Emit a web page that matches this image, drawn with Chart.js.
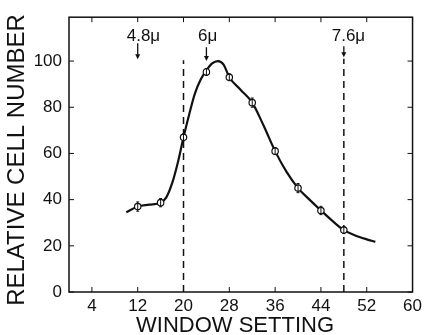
<!DOCTYPE html>
<html>
<head>
<meta charset="utf-8">
<script src="https://cdn.jsdelivr.net/npm/chart.js@4/dist/chart.umd.min.js"></script>
<style>
  body { margin: 0; background: #fff; }
  canvas { display: block; }
</style>
</head>
<body>
<canvas id="chart" width="426" height="335"></canvas>
<script>
// measured points (window setting, relative cell number, error)
const pointX = [12, 16, 20, 24, 28, 32, 36, 40, 44, 48];
const pointY = [37, 38.7, 67, 95.3, 93, 82, 61, 45, 35.3, 26.8];
const pointErr = [2, 1.8, 1.5, 1.5, 1.5, 2, 1.5, 2, 1.8, 1.5];

// smooth curve drawn through the points
const curveX = [10, 12, 14, 16, 17, 18, 19, 20, 21, 22, 23, 24, 25, 26, 27, 28, 30, 32, 34, 36, 38, 40, 42, 44, 46, 48, 50, 52, 53.5];
const curveY = [34.5, 37, 37.8, 38.7, 41, 47, 56, 67, 77, 86, 92, 96, 99, 100, 98.5, 93, 87.5, 82, 72, 61, 52, 45, 40, 35.3, 30.8, 26.8, 24.5, 22.8, 21.7];

// dashed markers and arrows
const dashX = [20, 48];
const dashTop = [100.4, 101];
const arrowX = [12, 24, 48];
const arrowTop = [107.7, 106, 106.4];
const arrowTip = [100.8, 100, 101.7];
const arrowLabels = ["4.8\u03bc", "6\u03bc", "7.6\u03bc"];
const arrowLabelX = [13, 24.2, 48.8];
const arrowLabelY = 108.5;

const xTicks = [4, 12, 20, 28, 36, 44, 52, 60];
const yTicks = [0, 20, 40, 60, 80, 100];
const xTitle = "WINDOW SETTING";
const yTitle = "RELATIVE CELL NUMBER";

const FONT = "'Liberation Sans', Arial, sans-serif";
const INK = "#111";

const dashSets = dashX.map((x, i) => ({
  type: "line",
  data: [{ x: x, y: 0 }, { x: x, y: dashTop[i] }],
  borderColor: INK,
  borderWidth: 1.5,
  borderDash: [7, 5],
  pointRadius: 0,
}));

const decor = {
  id: "decor",
  afterDatasetsDraw(chart) {
    const { ctx, chartArea: a, scales } = chart;
    const sx = scales.x, sy = scales.y;
    ctx.save();
    ctx.strokeStyle = INK;
    ctx.fillStyle = INK;

    // frame
    ctx.lineWidth = 1.5;
    ctx.strokeRect(a.left, a.top, a.right - a.left, a.bottom - a.top);

    // inward ticks on all four sides
    ctx.lineWidth = 1;
    ctx.beginPath();
    xTicks.forEach((v) => {
      const px = sx.getPixelForValue(v);
      ctx.moveTo(px, a.bottom); ctx.lineTo(px, a.bottom - 5);
      ctx.moveTo(px, a.top); ctx.lineTo(px, a.top + 5);
    });
    yTicks.concat([120]).forEach((v) => {
      const py = sy.getPixelForValue(v);
      if (py < a.top) return;
      ctx.moveTo(a.left, py); ctx.lineTo(a.left + 5, py);
      ctx.moveTo(a.right, py); ctx.lineTo(a.right - 5, py);
    });
    ctx.stroke();

    // error bars
    ctx.lineWidth = 1;
    ctx.beginPath();
    pointX.forEach((x, i) => {
      const px = sx.getPixelForValue(x);
      const y1 = sy.getPixelForValue(pointY[i] - pointErr[i]);
      const y2 = sy.getPixelForValue(pointY[i] + pointErr[i]);
      ctx.moveTo(px, y1); ctx.lineTo(px, y2);
      ctx.moveTo(px - 1.5, y1); ctx.lineTo(px + 1.5, y1);
      ctx.moveTo(px - 1.5, y2); ctx.lineTo(px + 1.5, y2);
    });
    ctx.stroke();

    // arrows
    arrowX.forEach((x, i) => {
      const px = sx.getPixelForValue(x);
      const t = sy.getPixelForValue(arrowTop[i]);
      const b = sy.getPixelForValue(arrowTip[i]);
      ctx.lineWidth = 1.3;
      ctx.beginPath();
      ctx.moveTo(px, t); ctx.lineTo(px, b - 3);
      ctx.stroke();
      ctx.beginPath();
      ctx.moveTo(px - 2.5, b - 5); ctx.lineTo(px + 2.5, b - 5); ctx.lineTo(px, b);
      ctx.closePath();
      ctx.fill();
    });

    // arrow labels
    ctx.font = "17px " + FONT;
    ctx.textAlign = "center";
    ctx.textBaseline = "alphabetic";
    arrowLabels.forEach((s, i) => {
      ctx.fillText(s, sx.getPixelForValue(arrowLabelX[i]), sy.getPixelForValue(arrowLabelY));
    });

    // axis titles
    ctx.font = "22px " + FONT;
    ctx.textAlign = "center";
    ctx.fillText(xTitle, 235, 332);
    ctx.save();
    ctx.translate(24, 160);
    ctx.rotate(-Math.PI / 2);
    ctx.font = "24px " + FONT;
    ctx.fillText(yTitle, 0, 0);
    ctx.restore();

    ctx.restore();
  },
};

new Chart(document.getElementById("chart"), {
  type: "line",
  data: {
    datasets: [
      {
        data: pointX.map((x, i) => ({ x: x, y: pointY[i] })),
        showLine: false,
        pointRadius: 3.2,
        pointBorderWidth: 1.2,
        pointBorderColor: INK,
        pointBackgroundColor: "#fff",
      },
      {
        data: curveX.map((x, i) => ({ x: x, y: curveY[i] })),
        borderColor: INK,
        borderWidth: 2.2,
        pointRadius: 0,
        cubicInterpolationMode: "monotone",
      },
      ...dashSets,
    ],
  },
  options: {
    responsive: false,
    animation: false,
    layout: { padding: { top: 12, right: 12, left: 0, bottom: 0 } },
    plugins: { legend: { display: false }, tooltip: { enabled: false } },
    scales: {
      x: {
        type: "linear",
        min: 0,
        max: 60,
        afterBuildTicks: (s) => { s.ticks = xTicks.map((v) => ({ value: v })); },
        afterFit: (s) => { s.height = 43; },
        grid: { display: false, drawTicks: false },
        border: { display: false },
        ticks: { color: INK, font: { family: FONT, size: 17 }, padding: 4, maxRotation: 0 },
      },
      y: {
        min: 0,
        max: 119,
        afterBuildTicks: (s) => { s.ticks = yTicks.map((v) => ({ value: v })); },
        afterFit: (s) => { s.width = 69; },
        grid: { display: false, drawTicks: false },
        border: { display: false },
        ticks: { color: INK, font: { family: FONT, size: 17 }, padding: 7 },
      },
    },
  },
  plugins: [decor],
});
</script>
</body>
</html>
